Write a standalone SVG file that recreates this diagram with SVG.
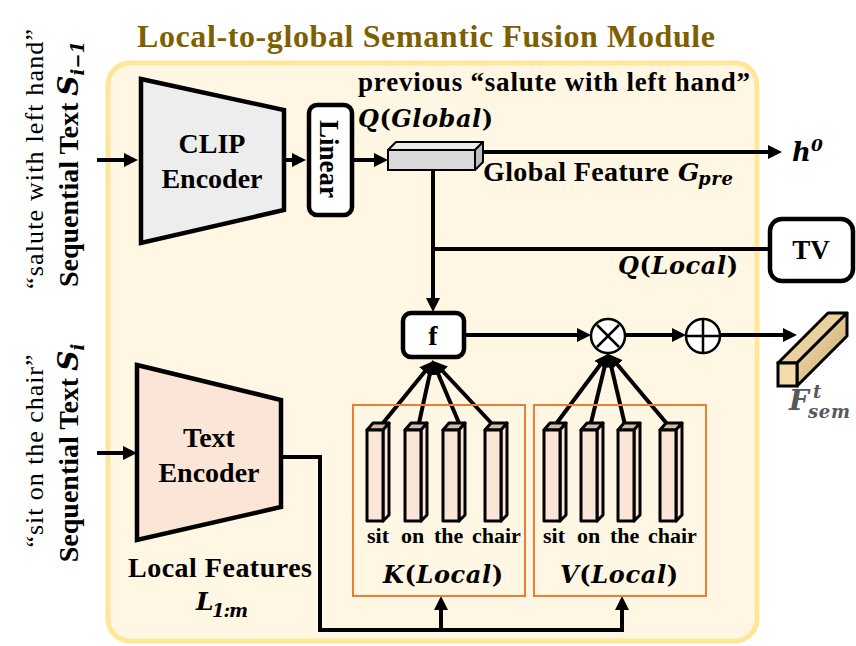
<svg xmlns="http://www.w3.org/2000/svg" width="856" height="646" viewBox="0 0 856 646">
<defs>
<style>
.t{font-weight:bold;fill:#000}
.r{font-weight:normal;fill:#000}
.m{font-weight:bold;font-style:italic}
.up{font-style:normal}
.ln{stroke:#000;stroke-width:4;fill:none}
.enc{stroke:#000;stroke-width:4.5;stroke-linejoin:miter}
.box{fill:#fff;stroke:#000;stroke-width:4.5}
.grp{fill:none;stroke:#ed7d31;stroke-width:2}
.cf{fill:#fbe5d6;stroke:#000;stroke-width:3;stroke-linejoin:round}
.ct{fill:#d9b9a9;stroke:#000;stroke-width:3;stroke-linejoin:round}
</style>
<marker id="ah" markerUnits="userSpaceOnUse" markerWidth="16" markerHeight="16" refX="10" refY="7" orient="auto">
<path d="M0,0 L14,7 L0,14 z" fill="#000"/>
</marker>
<g id="col">
<polygon class="ct" points="0,7 6,0 22,0 16,7"/>
<polygon class="cf" points="16,7 22,0 22,92 16,98"/>
<rect class="cf" x="0" y="7" width="16" height="91"/>
</g>
<linearGradient id="tan" x1="0" y1="0" x2="1" y2="1">
<stop offset="0" stop-color="#f7e3b5"/>
<stop offset="1" stop-color="#c7a66c"/>
</linearGradient>
</defs>

<rect width="856" height="646" fill="#fff"/>

<g font-family="Liberation Serif, Times New Roman, serif">

<g id="title">
<text class="t" x="426" y="47" font-size="32" fill="#7f6000" style="fill:#7f6000" text-anchor="middle" textLength="578" lengthAdjust="spacing">Local-to-global Semantic Fusion Module</text>
</g>

<g id="panel">
<rect x="108" y="63" width="649" height="578" rx="22" fill="#fff6e3" stroke="#ffe699" stroke-width="5"/>
</g>

<g id="input-prev">
<text class="r" transform="translate(43,159) rotate(-90)" font-size="26" text-anchor="middle" textLength="260" lengthAdjust="spacing">“salute with left hand”</text>
<text class="t" transform="translate(78,164) rotate(-90)" font-size="28" text-anchor="middle">Sequential Text <tspan class="m" font-family="DejaVu Serif, serif">S</tspan><tspan class="m" font-family="DejaVu Serif, serif" font-size="18" dy="6">i−1</tspan></text>
</g>

<g id="input-cur">
<text class="r" transform="translate(43,451) rotate(-90)" font-size="26" text-anchor="middle" textLength="193" lengthAdjust="spacing">“sit on the chair”</text>
<text class="t" transform="translate(78,453) rotate(-90)" font-size="28" text-anchor="middle">Sequential Text <tspan class="m" font-family="DejaVu Serif, serif">S</tspan><tspan class="m" font-family="DejaVu Serif, serif" font-size="18" dy="6">i</tspan></text>
</g>

<g id="connectors">
<line class="ln" x1="97" y1="160" x2="134" y2="160" marker-end="url(#ah)"/>
<line class="ln" x1="284" y1="160" x2="302" y2="160" marker-end="url(#ah)"/>
<line class="ln" x1="353" y1="160" x2="384" y2="160" marker-end="url(#ah)"/>
<line class="ln" x1="483" y1="152" x2="778" y2="152" marker-end="url(#ah)"/>
<line class="ln" x1="433" y1="170" x2="433" y2="308" marker-end="url(#ah)"/>
<line class="ln" x1="433" y1="249" x2="770" y2="249"/>
<line class="ln" x1="464" y1="335" x2="587" y2="335" marker-end="url(#ah)"/>
<line class="ln" x1="625" y1="335" x2="682" y2="335" marker-end="url(#ah)"/>
<line class="ln" x1="720" y1="335" x2="793" y2="335" marker-end="url(#ah)"/>
<line class="ln" x1="97" y1="453" x2="133" y2="453" marker-end="url(#ah)"/>
<path class="ln" d="M281,457 H320 V630 H622 V600" marker-end="url(#ah)"/>
<line class="ln" x1="441" y1="630" x2="441" y2="600" marker-end="url(#ah)"/>
<line class="ln" x1="379" y1="428" x2="431" y2="364" marker-end="url(#ah)"/>
<line class="ln" x1="419" y1="423" x2="432" y2="364" marker-end="url(#ah)"/>
<line class="ln" x1="459" y1="423" x2="434" y2="364" marker-end="url(#ah)"/>
<line class="ln" x1="495" y1="427" x2="436" y2="364" marker-end="url(#ah)"/>
<line class="ln" x1="553" y1="428" x2="606" y2="357" marker-end="url(#ah)"/>
<line class="ln" x1="590" y1="427" x2="607" y2="357" marker-end="url(#ah)"/>
<line class="ln" x1="625" y1="425" x2="609" y2="357" marker-end="url(#ah)"/>
<line class="ln" x1="668" y1="425" x2="611" y2="357" marker-end="url(#ah)"/>
</g>

<g id="clip-encoder">
<polygon class="enc" points="141,79 284,110 284,210 141,243" fill="#ededed"/>
<text class="t" x="212" y="153" font-size="28" text-anchor="middle">CLIP</text>
<text class="t" x="212" y="188" font-size="28" text-anchor="middle">Encoder</text>
</g>

<g id="linear">
<rect class="box" x="309" y="105" width="43" height="110" rx="8"/>
<text class="t" transform="translate(320,159) rotate(90)" font-size="27" text-anchor="middle">Linear</text>
</g>

<g id="global-feature">
<polygon points="388,150 396,142 483,142 475,150" fill="#ececec" stroke="#000" stroke-width="2" stroke-linejoin="round"/>
<polygon points="475,150 483,142 483,162 475,170" fill="#bdbdbd" stroke="#000" stroke-width="2" stroke-linejoin="round"/>
<rect x="388" y="150" width="87" height="20" fill="#d9d9d9" stroke="#000" stroke-width="2"/>
<text class="t" x="358" y="91" font-size="27" textLength="392" lengthAdjust="spacing">previous “salute with left hand”</text>
<text class="m" font-family="DejaVu Serif, serif" x="358" y="127" font-size="24" textLength="135" lengthAdjust="spacing">Q<tspan class="up">(</tspan>Global<tspan class="up">)</tspan></text>
<text class="t" x="483" y="181" font-size="28" textLength="186" lengthAdjust="spacing">Global Feature</text>
<text class="m" font-family="DejaVu Serif, serif" x="678" y="181" font-size="25">G</text>
<text class="m" font-family="DejaVu Serif, serif" x="698" y="185" font-size="18" textLength="35" lengthAdjust="spacing">pre</text>
</g>

<g id="h0">
<text class="m" font-family="DejaVu Serif, serif" x="792" y="161" font-size="26">h</text>
<text class="m" font-family="DejaVu Serif, serif" x="811" y="151" font-size="17">0</text>
</g>

<g id="tv">
<rect class="box" x="770" y="219" width="83" height="62" rx="12"/>
<text class="t" x="811" y="259" font-size="27" text-anchor="middle">TV</text>
<text class="m" font-family="DejaVu Serif, serif" x="618" y="274" font-size="24" textLength="120" lengthAdjust="spacing">Q<tspan class="up">(</tspan>Local<tspan class="up">)</tspan></text>
</g>

<g id="f">
<rect class="box" x="403" y="313" width="61" height="44" rx="8"/>
<text class="t" x="433" y="345" font-size="28" text-anchor="middle">f</text>
</g>

<g id="mul">
<circle cx="608" cy="336" r="17" fill="#fff" stroke="#000" stroke-width="2.5"/>
<path d="M597,325 L619,347 M619,325 L597,347" stroke="#000" stroke-width="2.5"/>
</g>

<g id="add">
<circle cx="703" cy="336" r="17" fill="#fff" stroke="#000" stroke-width="2.5"/>
<path d="M686,336 H720 M703,319 V353" stroke="#000" stroke-width="2.5"/>
</g>

<g id="fsem">
<polygon points="778,363 828,313 847,313 797,363" fill="#ead29e" stroke="#000" stroke-width="3" stroke-linejoin="round"/>
<polygon points="797,363 847,313 847,336 797,386" fill="url(#tan)" stroke="#000" stroke-width="3" stroke-linejoin="round"/>
<rect x="778" y="363" width="19" height="23" fill="#f3dcaa" stroke="#000" stroke-width="3"/>
<text class="m" font-family="DejaVu Serif, serif" x="789" y="410" font-size="28" fill="#595959">F</text>
<text class="m" font-family="DejaVu Serif, serif" x="813" y="398" font-size="18" fill="#595959">t</text>
<text class="m" font-family="DejaVu Serif, serif" x="808" y="418" font-size="18" fill="#595959" textLength="42" lengthAdjust="spacing">sem</text>
</g>

<g id="text-encoder">
<polygon class="enc" points="137,365 281,400 281,507 137,540" fill="#fbe5d6"/>
<text class="t" x="209" y="447" font-size="28" text-anchor="middle">Text</text>
<text class="t" x="209" y="482" font-size="28" text-anchor="middle">Encoder</text>
<text class="t" x="220" y="577" font-size="28" text-anchor="middle" textLength="184" lengthAdjust="spacing">Local Features</text>
<text class="m" font-family="DejaVu Serif, serif" x="196" y="610" font-size="25">L</text>
<text class="m" font-family="DejaVu Serif, serif" x="212" y="617" font-size="18" textLength="36" lengthAdjust="spacing">1:m</text>
</g>

<g id="k-local">
<rect class="grp" x="353" y="405" width="172" height="191"/>
<use href="#col" x="367" y="423"/>
<use href="#col" x="405" y="423"/>
<use href="#col" x="443" y="423"/>
<use href="#col" x="485" y="423"/>
<text class="t" x="367" y="543" font-size="22">sit</text>
<text class="t" x="401" y="543" font-size="22">on</text>
<text class="t" x="434" y="543" font-size="22">the</text>
<text class="t" x="472" y="543" font-size="22">chair</text>
<text class="m" font-family="DejaVu Serif, serif" x="383" y="583" font-size="24" textLength="120" lengthAdjust="spacing">K<tspan class="up">(</tspan>Local<tspan class="up">)</tspan></text>
</g>

<g id="v-local">
<rect class="grp" x="534" y="405" width="172" height="191"/>
<use href="#col" x="544" y="423"/>
<use href="#col" x="581" y="423"/>
<use href="#col" x="618" y="423"/>
<use href="#col" x="660" y="423"/>
<text class="t" x="543" y="543" font-size="22">sit</text>
<text class="t" x="577" y="543" font-size="22">on</text>
<text class="t" x="610" y="543" font-size="22">the</text>
<text class="t" x="648" y="543" font-size="22">chair</text>
<text class="m" font-family="DejaVu Serif, serif" x="560" y="583" font-size="24" textLength="118" lengthAdjust="spacing">V<tspan class="up">(</tspan>Local<tspan class="up">)</tspan></text>
</g>

</g>
</svg>
